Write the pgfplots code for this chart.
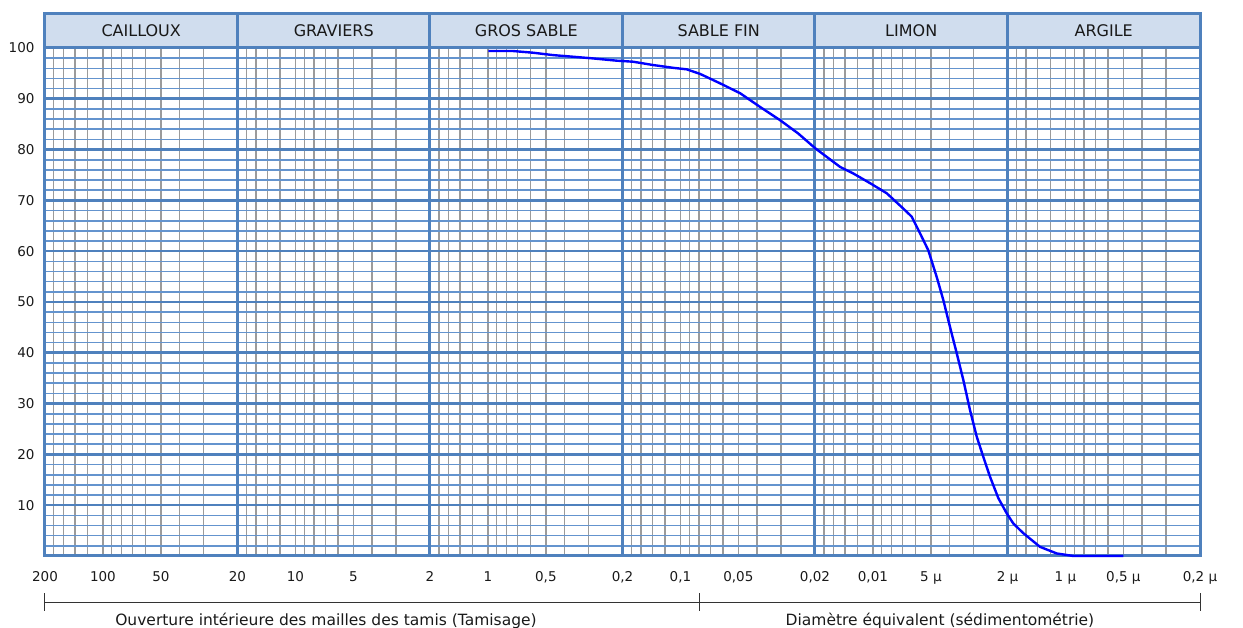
\documentclass[border=0pt]{standalone}
\usepackage{pgfplots}
\pgfplotsset{compat=1.18}
\usepackage{fontspec}
\setmainfont{DejaVu Sans}
\definecolor{gblue}{RGB}{79,129,189}
\definecolor{lblue}{RGB}{100,148,206}
\definecolor{ggrey}{RGB}{155,155,155}
\definecolor{hdr}{RGB}{208,221,238}
\definecolor{txt}{RGB}{25,25,25}
\begin{document}
\begin{tikzpicture}
\useasboundingbox (0,0) rectangle (1243pt,628pt);
\begin{axis}[
  at={(45pt,72pt)}, anchor=south west,
  scale only axis, width=1155pt, height=508pt,
  xmode=log, log basis x=10, x dir=reverse,
  xmin=0.0002, xmax=200, ymin=0, ymax=100,
  clip=false,
  axis line style={draw=gblue, line width=3pt},
  major tick length=0pt, minor tick length=0pt,
  xtick={200,100,50,20,10,5,2,1,0.5,0.2,0.1,0.05,0.02,0.01,0.005,0.002,0.001,0.0005,0.0002},
  xticklabels={200,100,50,20,10,5,2,1,{0,5},{0,2},{0,1},{0,05},{0,02},{0,01},5 µ,2 µ,1 µ,{0,5 µ},{0,2 µ}},
  minor xtick={30,40,50,60,70,80,90,100,120,140,160,180,
    3,4,5,6,7,8,9,10,12,14,16,18,
    0.3,0.4,0.5,0.6,0.7,0.8,0.9,1,1.2,1.4,1.6,1.8,
    0.03,0.04,0.05,0.06,0.07,0.08,0.09,0.1,0.12,0.14,0.16,0.18,
    0.003,0.004,0.005,0.006,0.007,0.008,0.009,0.01,0.012,0.014,0.016,0.018,
    0.0003,0.0004,0.0005,0.0006,0.0007,0.0008,0.0009,0.001,0.0012,0.0014,0.0016,0.0018},
  ytick={10,20,30,40,50,60,70,80,90,100},
  yticklabels={10,20,30,40,50,60,70,80,90,100},
  minor ytick={2,4,6,8,12,14,16,18,22,24,26,28,32,34,36,38,42,44,46,48,52,54,56,58,62,64,66,68,72,74,76,78,82,84,86,88,92,94,96,98},
  xmajorgrids=false, xminorgrids=true, ymajorgrids=true, yminorgrids=true,
  minor x grid style={draw=ggrey, line width=1.4pt},
  major y grid style={draw=gblue, line width=2.6pt},
  minor y grid style={draw=lblue, line width=1.6pt},
  extra x ticks={200,20,2,0.2,0.02,0.002,0.0002},
  extra x tick labels={},
  extra x tick style={grid=major, major grid style={draw=gblue, line width=3pt}},
  xticklabel style={font=\fontsize{13.5}{15}\selectfont, text=txt, anchor=base, yshift=-26pt},
  yticklabel style={font=\fontsize{13.5}{15}\selectfont, text=txt, anchor=east, xshift=-7pt},
]
\addplot[color=blue, line width=2.4pt] coordinates {
  (0.9955,99.4) (0.739,99.4) (0.583,99.07) (0.459,98.6) (0.367,98.3)
  (0.289,97.97) (0.214,97.5) (0.1764,97.3) (0.1389,96.65) (0.1093,96.1)
  (0.0928,95.8) (0.0791,94.9) (0.0623,93.05) (0.0490,91.1) (0.0386,88.4)
  (0.0304,85.8) (0.0245,83.2) (0.02,80.3) (0.01483,76.6) (0.01265,75.3)
  (0.01036,73.4) (0.00848,71.4) (0.00696,68.4) (0.00629,66.8) (0.00569,63.5)
  (0.00516,60.2) (0.00467,55.0) (0.00431,50.4) (0.00398,45.1) (0.00367,39.9)
  (0.00339,34.6) (0.00313,28.7) (0.00289,23.5) (0.00267,19.5) (0.002465,15.6)
  (0.002232,11.4) (0.002019,8.4) (0.001866,6.4) (0.001656,4.5) (0.001356,1.8)
  (0.00111,0.5) (0.00091,0) (0.0005,0)
};
% header band
\fill[hdr] (axis cs:200,100) rectangle (axis cs:0.0002,106.7);
\draw[gblue, line width=3pt] (axis cs:200,100) rectangle (axis cs:0.0002,106.7);
\draw[gblue, line width=3pt] (axis cs:20,100) -- (axis cs:20,106.7);
\draw[gblue, line width=3pt] (axis cs:2,100) -- (axis cs:2,106.7);
\draw[gblue, line width=3pt] (axis cs:0.2,100) -- (axis cs:0.2,106.7);
\draw[gblue, line width=3pt] (axis cs:0.02,100) -- (axis cs:0.02,106.7);
\draw[gblue, line width=3pt] (axis cs:0.002,100) -- (axis cs:0.002,106.7);
\begin{scope}[every node/.style={font=\fontsize{16}{18}\selectfont, text=txt}]
\node at (axis cs:63.25,103.35) {CAILLOUX};
\node at (axis cs:6.325,103.35) {GRAVIERS};
\node at (axis cs:0.6325,103.35) {GROS SABLE};
\node at (axis cs:0.06325,103.35) {SABLE FIN};
\node at (axis cs:0.006325,103.35) {LIMON};
\node at (axis cs:0.0006325,103.35) {ARGILE};
\end{scope}
% bottom bracket
\draw[black!80, line width=1pt] (axis cs:200,-9.25) -- (axis cs:0.0002,-9.25);
\draw[black!80, line width=1pt] (axis cs:200,-7.3) -- (axis cs:200,-10.9);
\draw[black!80, line width=1pt] (axis cs:0.08,-7.3) -- (axis cs:0.08,-10.9);
\draw[black!80, line width=1pt] (axis cs:0.0002,-7.3) -- (axis cs:0.0002,-10.9);
\node[font=\fontsize{15.5}{17}\selectfont, text=txt, anchor=base] at (axis cs:6.94,-13.6) {Ouverture intérieure des mailles des tamis (Tamisage)};
\node[font=\fontsize{15.5}{17}\selectfont, text=txt, anchor=base] at (axis cs:0.004483,-13.6) {Diamètre équivalent (sédimentométrie)};
\end{axis}
\end{tikzpicture}
\end{document}
